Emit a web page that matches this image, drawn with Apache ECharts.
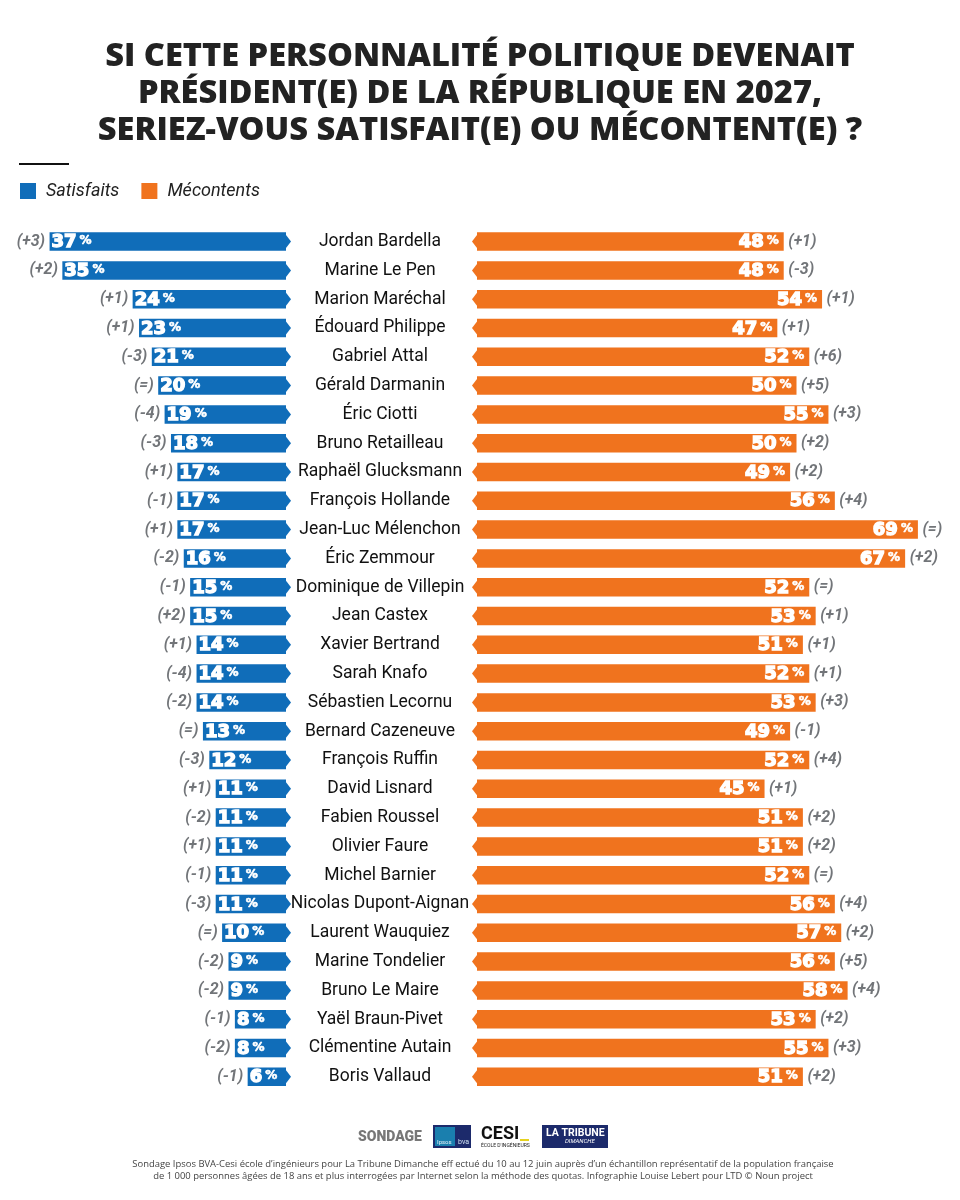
<!DOCTYPE html>
<html><head><meta charset="utf-8">
<style>html,body{margin:0;padding:0;background:#fff}#c{width:960px;height:1200px}</style>
<script src="https://cdn.jsdelivr.net/npm/echarts@6/dist/echarts.min.js"></script></head>
<body><div id="c"></div>
<script>
const names = ["Jordan Bardella","Marine Le Pen","Marion Maréchal","Édouard Philippe","Gabriel Attal","Gérald Darmanin","Éric Ciotti","Bruno Retailleau","Raphaël Glucksmann","François Hollande","Jean-Luc Mélenchon","Éric Zemmour","Dominique de Villepin","Jean Castex","Xavier Bertrand","Sarah Knafo","Sébastien Lecornu","Bernard Cazeneuve","François Ruffin","David Lisnard","Fabien Roussel","Olivier Faure","Michel Barnier","Nicolas Dupont-Aignan","Laurent Wauquiez","Marine Tondelier","Bruno Le Maire","Yaël Braun-Pivet","Clémentine Autain","Boris Vallaud"];
const satisfaits = [37,35,24,23,21,20,19,18,17,17,17,16,15,15,14,14,14,13,12,11,11,11,11,11,10,9,9,8,8,6];
const mecontents = [48,48,54,47,52,50,55,50,49,56,69,67,52,53,51,52,53,49,52,45,51,51,52,56,57,56,58,53,55,51];
const evoSat = ["+3","+2","+1","+1","-3","=","-4","-3","+1","-1","+1","-2","-1","+2","+1","-4","-2","=","-3","+1","-2","+1","-1","-3","=","-2","-2","-1","-2","-1"];
const evoMec = ["+1","-3","+1","+1","+6","+5","+3","+2","+2","+4","=","+2","=","+1","+1","+1","+3","-1","+4","+1","+2","+2","=","+4","+2","+5","+4","+2","+3","+2"];
const BLUE="#106db9", ORANGE="#f0731e", GREY="#4f5358";
const NARROW='"Roboto",sans-serif';
const HEAVY='"DejaVu Sans",sans-serif';
const pxPerUnit=6.39, gridTop=227.2, rowH=28.8;
const chart=echarts.init(document.getElementById('c'),null,{renderer:'canvas'});
const valueRich={n:{color:'#fff',fontFamily:HEAVY,fontWeight:'bold',fontSize:18,textBorderColor:'#fff',textBorderWidth:1.4},
                 p:{color:'#fff',fontFamily:HEAVY,fontWeight:'bold',fontSize:12,padding:[0,0,3,3],textBorderColor:'#fff',textBorderWidth:0.6}};
const valFmt=p=>`{n|${p.value}}{p|%}`;
const evoLabel=(arr,pos)=>({show:true,position:pos,distance:4,formatter:p=>`(${arr[p.dataIndex]})`,
  fontFamily:NARROW,fontStyle:'italic',fontWeight:'bold',fontSize:16,color:GREY});
const tip=(gi,rot,off,col)=>({type:'scatter',xAxisIndex:gi,yAxisIndex:gi,silent:true,clip:false,symbol:'triangle',symbolSize:[13,5],symbolRotate:rot,symbolOffset:[off,0],
  itemStyle:{color:col,opacity:1},data:names.map((_,i)=>[0,i]),z:3});
const option={
  animation:false,backgroundColor:'#fff',
  title:{text:"SI CETTE PERSONNALITÉ POLITIQUE DEVENAIT\nPRÉSIDENT(E) DE LA RÉPUBLIQUE EN 2027,\nSERIEZ-VOUS SATISFAIT(E) OU MÉCONTENT(E) ?",
    left:475,top:33,textAlign:'center',
    textStyle:{fontFamily:'"Open Sans",sans-serif',fontWeight:800,fontSize:32.6,lineHeight:37,color:'#222'}},
  legend:{left:15,top:177,icon:'rect',itemWidth:16,itemHeight:16,itemGap:22,data:['Satisfaits','Mécontents'],selectedMode:false,
    textStyle:{fontFamily:NARROW,fontStyle:'italic',fontSize:18,color:'#222',padding:[3,0,0,5]}},
  grid:[{left:286-40*pxPerUnit,width:40*pxPerUnit,top:gridTop,height:rowH*30},{left:477,width:70*pxPerUnit,top:gridTop,height:rowH*30}],
  xAxis:[{gridIndex:0,type:'value',min:0,max:40,inverse:true,show:false},{gridIndex:1,type:'value',min:0,max:70,show:false}],
  yAxis:[{gridIndex:0,type:'category',data:names,inverse:true,position:'right',axisLine:{show:false},axisTick:{show:false},splitLine:{show:false},
      axisLabel:{interval:0,align:'center',margin:94,fontFamily:NARROW,fontSize:17.5,color:'#111',padding:[0,0,5,0]}},
    {gridIndex:1,type:'category',data:names,inverse:true,show:false}],
  series:[
    {name:'Satisfaits',type:'bar',xAxisIndex:0,yAxisIndex:0,data:satisfaits,barWidth:18.5,itemStyle:{color:BLUE},
      label:{show:true,position:'insideLeft',distance:2,offset:[0,1],formatter:valFmt,rich:valueRich}},
    {name:'Mécontents',type:'bar',xAxisIndex:1,yAxisIndex:1,data:mecontents,barWidth:18.5,itemStyle:{color:ORANGE},
      label:{show:true,position:'insideRight',distance:5,offset:[0,1],formatter:valFmt,rich:valueRich}},
    tip(0,-90,2.5,BLUE),
    tip(1,90,-2.5,ORANGE),
    {type:'scatter',xAxisIndex:0,yAxisIndex:0,silent:true,symbolSize:1,itemStyle:{color:'transparent'},data:satisfaits.map((v,i)=>[v,i]),label:evoLabel(evoSat,'left')},
    {type:'scatter',xAxisIndex:1,yAxisIndex:1,silent:true,symbolSize:1,itemStyle:{color:'transparent'},data:mecontents.map((v,i)=>[v,i]),label:evoLabel(evoMec,'right')}
  ],
  graphic:[
    {type:'rect',shape:{x:19,y:163,width:50,height:2},style:{fill:'#111'}},
    {type:'text',style:{x:358,y:1130,text:'SONDAGE',fontFamily:NARROW,fontWeight:'900',fontSize:14,fill:'#777'}},
    {type:'rect',shape:{x:433,y:1125,width:38,height:23},style:{fill:'#1c2a6b'}},
    {type:'rect',shape:{x:435,y:1127,width:20,height:19},style:{fill:'#1a7fae'}},
    {type:'text',style:{x:437,y:1139,text:'Ipsos',fontFamily:NARROW,fontSize:6,fill:'#e5f0f8'}},
    {type:'text',style:{x:458,y:1139,text:'bva',fontFamily:NARROW,fontSize:7,fill:'#cfe0f0'}},
    {type:'text',style:{x:481,y:1125,text:'CESI',fontFamily:NARROW,fontWeight:'bold',fontSize:18,fill:'#111'}},
    {type:'rect',shape:{x:520,y:1139,width:9,height:2},style:{fill:'#e6d21e'}},
    {type:'text',style:{x:481,y:1143,text:"ÉCOLE D'INGÉNIEURS",fontFamily:NARROW,fontSize:5,fill:'#222'}},
    {type:'rect',shape:{x:542,y:1125,width:66,height:23},style:{fill:'#1c2a6b'}},
    {type:'text',style:{x:546,y:1128,text:'LA TRIBUNE',fontFamily:NARROW,fontWeight:'bold',fontSize:10.5,fill:'#fff'}},
    {type:'text',style:{x:565,y:1138,text:'DIMANCHE',fontFamily:NARROW,fontStyle:'italic',fontSize:6,fill:'#fff'}},
    {type:'text',style:{x:483,y:1158,align:'center',text:"Sondage Ipsos BVA-Cesi école d’ingénieurs pour La Tribune Dimanche eff ectué du 10 au 12 juin auprès d’un échantillon représentatif de la population française\nde 1 000 personnes âgées de 18 ans et plus interrogées par Internet selon la méthode des quotas. Infographie Louise Lebert pour LTD © Noun project",
      fontFamily:'"Open Sans",sans-serif',fontSize:9.45,lineHeight:12,fill:'#444'}}
  ]
};
chart.setOption(option);
</script></body></html>
